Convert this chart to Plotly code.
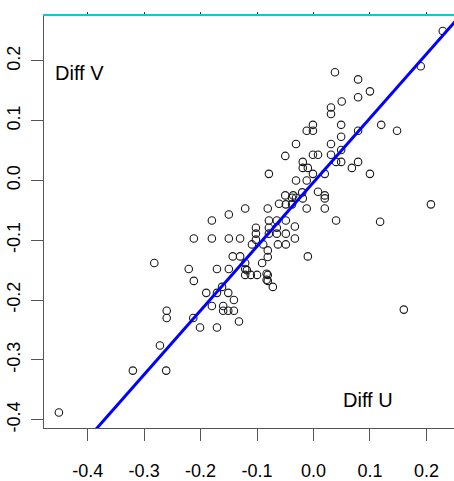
import plotly.graph_objects as go
import numpy as np

diff_u = [
    0.229, 0.190, 0.038, 0.079, 0.100, 0.079, 0.050, 0.031, 0.031, -0.001,
    -0.012, -0.001, 0.049, 0.120, 0.148, 0.079, 0.049, -0.031, 0.031, 0.049,
    -0.050, -0.001, 0.008, 0.031, -0.019, -0.019, -0.010, 0.040, 0.049, 0.079,
    0.068, -0.079, -0.001, 0.020, 0.100, -0.031, -0.012, -0.050, -0.036, -0.020,
    0.008, 0.020, -0.019, 0.020, -0.012, 0.020, 0.208, 0.118, 0.160, 0.040,
    -0.010, -0.038, -0.061, -0.049, -0.038, -0.121, -0.081, -0.150, -0.180, -0.212,
    -0.180, -0.150, -0.130, -0.102, -0.102, -0.102, -0.079, -0.079, -0.079, -0.065,
    -0.065, -0.065, -0.049, -0.049, -0.109, -0.089, -0.063, -0.049, -0.033, -0.033,
    -0.081, -0.081, -0.143, -0.130, -0.091, -0.121, -0.118, -0.111, -0.100, -0.081,
    -0.081, -0.072, -0.282, -0.221, -0.212, -0.171, -0.150, -0.190, -0.171, -0.162,
    -0.151, -0.141, -0.180, -0.160, -0.160, -0.151, -0.141, -0.132, -0.260, -0.260,
    -0.213, -0.201, -0.171, -0.272, -0.320, -0.261, -0.451, -0.121, -0.121, -0.083,
    -0.083, -0.031,
]
diff_v = [
    0.250, 0.191, 0.181, 0.169, 0.149, 0.139, 0.132, 0.122, 0.111, 0.093,
    0.083, 0.083, 0.093, 0.093, 0.083, 0.083, 0.073, 0.061, 0.061, 0.051,
    0.041, 0.043, 0.043, 0.043, 0.031, 0.021, 0.021, 0.031, 0.031, 0.031,
    0.021, 0.011, 0.011, 0.011, 0.011, 0.000, 0.000, -0.025, -0.025, -0.020,
    -0.019, -0.025, -0.030, -0.030, -0.047, -0.047, -0.040, -0.069, -0.216, -0.067,
    -0.127, -0.029, -0.039, -0.040, -0.040, -0.047, -0.047, -0.057, -0.067, -0.097,
    -0.097, -0.097, -0.097, -0.079, -0.089, -0.099, -0.067, -0.079, -0.089, -0.067,
    -0.079, -0.089, -0.067, -0.089, -0.107, -0.107, -0.107, -0.107, -0.097, -0.077,
    -0.117, -0.128, -0.127, -0.127, -0.138, -0.138, -0.150, -0.158, -0.158, -0.158,
    -0.168, -0.178, -0.138, -0.148, -0.168, -0.148, -0.148, -0.188, -0.188, -0.178,
    -0.188, -0.200, -0.210, -0.210, -0.218, -0.218, -0.218, -0.236, -0.218, -0.230,
    -0.230, -0.246, -0.246, -0.276, -0.318, -0.318, -0.388, -0.148, -0.158, -0.156,
    -0.166, -0.029,
]

fit_intercept = -0.003
fit_slope = 1.072

x_ticks = [-0.4, -0.3, -0.2, -0.1, 0.0, 0.1, 0.2]
y_ticks = [-0.4, -0.3, -0.2, -0.1, 0.0, 0.1, 0.2]
x_range = [-0.4774, 0.2489]
y_range = [-0.414, 0.275]

font = "Liberation Sans, Arial, sans-serif"

fig = go.Figure()
fig.add_trace(go.Scatter(
    x=diff_u, y=diff_v, mode="markers",
    marker=dict(symbol="circle-open", size=7.5, color="#1a1a1a", line=dict(width=1.1)),
    showlegend=False, cliponaxis=True,
))
lx = np.array([-1.0, 1.0])
fig.add_trace(go.Scatter(
    x=lx, y=fit_intercept + fit_slope * lx, mode="lines",
    line=dict(color="#0000FF", width=3), showlegend=False,
))
fig.add_trace(go.Scatter(x=[None], y=[None], xaxis="x2", showlegend=False))

fig.update_layout(
    width=454, height=481,
    margin=dict(l=44, r=0, t=16, b=49),
    paper_bgcolor="white", plot_bgcolor="white",
    font=dict(family=font, size=18, color="black"),
    xaxis=dict(
        range=x_range, tickvals=x_ticks, ticktext=[f"{v:.1f}" for v in x_ticks],
        showgrid=False, zeroline=False, showline=True, linecolor="#555", linewidth=1,
        ticks="outside", ticklen=12, tickcolor="#555", tickwidth=1,
        ticklabelstandoff=14,
    ),
    xaxis2=dict(
        overlaying="x", side="top", matches="x", range=x_range, tickvals=x_ticks,
        showticklabels=False, showgrid=False, zeroline=False,
        showline=True, linecolor="#00D0D0", linewidth=2,
        ticks="outside", ticklen=2, tickcolor="#333",
    ),
    yaxis=dict(
        range=y_range, tickvals=y_ticks, ticktext=[f"{v:.1f}" for v in y_ticks],
        showgrid=False, zeroline=False, showline=True, linecolor="#555", linewidth=1,
        ticks="outside", ticklen=12, tickcolor="#555", tickwidth=1,
        tickangle=-90, ticklabelstandoff=4,
    ),
    annotations=[
        dict(x=-0.414, y=0.179, xref="x", yref="y", text="Diff V", showarrow=False,
             font=dict(size=20, family=font)),
        dict(x=0.097, y=-0.368, xref="x", yref="y", text="Diff U", showarrow=False,
             font=dict(size=20, family=font)),
    ],
)

fig.write_html("out.html")
